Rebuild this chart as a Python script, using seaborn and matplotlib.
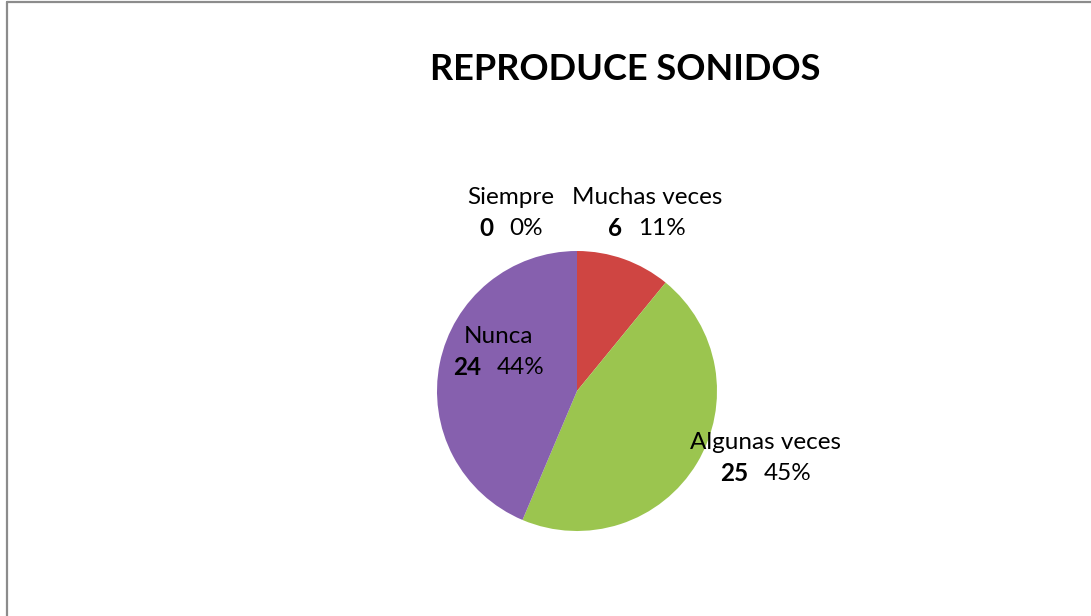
import matplotlib
matplotlib.use("Agg")
import matplotlib.pyplot as plt
from matplotlib.lines import Line2D
import seaborn as sns
import numpy as np

# data
categorias = ["Siempre", "Muchas veces", "Algunas veces", "Nunca"]
valores = [0, 6, 25, 24]
porcentajes = ["0%", "11%", "45%", "44%"]
colores = ["#4F81BD", "#CF4542", "#9BC54F", "#8660AE"]

sns.set_theme(style="white")
plt.rcParams["font.family"] = ["Lato", "DejaVu Sans"]

W, H = 1091, 616
fig = plt.figure(figsize=(W / 100, H / 100), dpi=100)

#pie centre and radius in pixels
cx, cy, r = 577, 391, 140
ax = fig.add_axes([(cx - r) / W, (H - cy - r) / H, 2 * r / W, 2 * r / H])
ax.pie(valores, colors=colores, startangle=90, counterclock=False,
       wedgeprops=dict(edgecolor="none"))
ax.set_xlim(-1, 1)
ax.set_ylim(-1, 1)
ax.set_aspect("auto")
ax.axis("off")

# label positions (pie units)
pos = [(-0.47, 1.27), (0.50, 1.27), (1.35, -0.48), (-0.56, 0.28)]
fs = 17.5
gap = 0.11
pares = []
for cat, v, p, (x, y) in zip(categorias, valores, porcentajes, pos):
    ax.text(x, y + 0.11, cat, ha="center", va="center", fontsize=fs, color="black")
    t1 = ax.text(x, y - 0.11, str(v), ha="left", va="center", fontsize=fs,
                 fontweight="bold", color="black")
    t2 = ax.text(x, y - 0.11, p, ha="left", va="center", fontsize=fs, color="black")
    pares.append((x, t1, t2))

# centre the "value  pct" group under each name
fig.canvas.draw()
rend = fig.canvas.get_renderer()
for x, t1, t2 in pares:
    w1 = t1.get_window_extent(rend).width / r
    w2 = t2.get_window_extent(rend).width / r
    total = w1 + gap + w2
    t1.set_x(x - total / 2)
    t2.set_x(x - total / 2 + w1 + gap)

fig.text(625 / W, 1 - 70 / H, "REPRODUCE SONIDOS", ha="center", va="center",
         fontsize=26, fontweight="bold", color="black")

# outer frame (left and top only visible)
fig.add_artist(Line2D([6.5 / W, 6.5 / W], [0, 1 - 1.5 / H], color="#8c8c8c", lw=1.6))
fig.add_artist(Line2D([6.5 / W, 1], [1 - 1.5 / H, 1 - 1.5 / H], color="#8c8c8c", lw=1.6))

fig.savefig("out.png", dpi=100, facecolor="white")
